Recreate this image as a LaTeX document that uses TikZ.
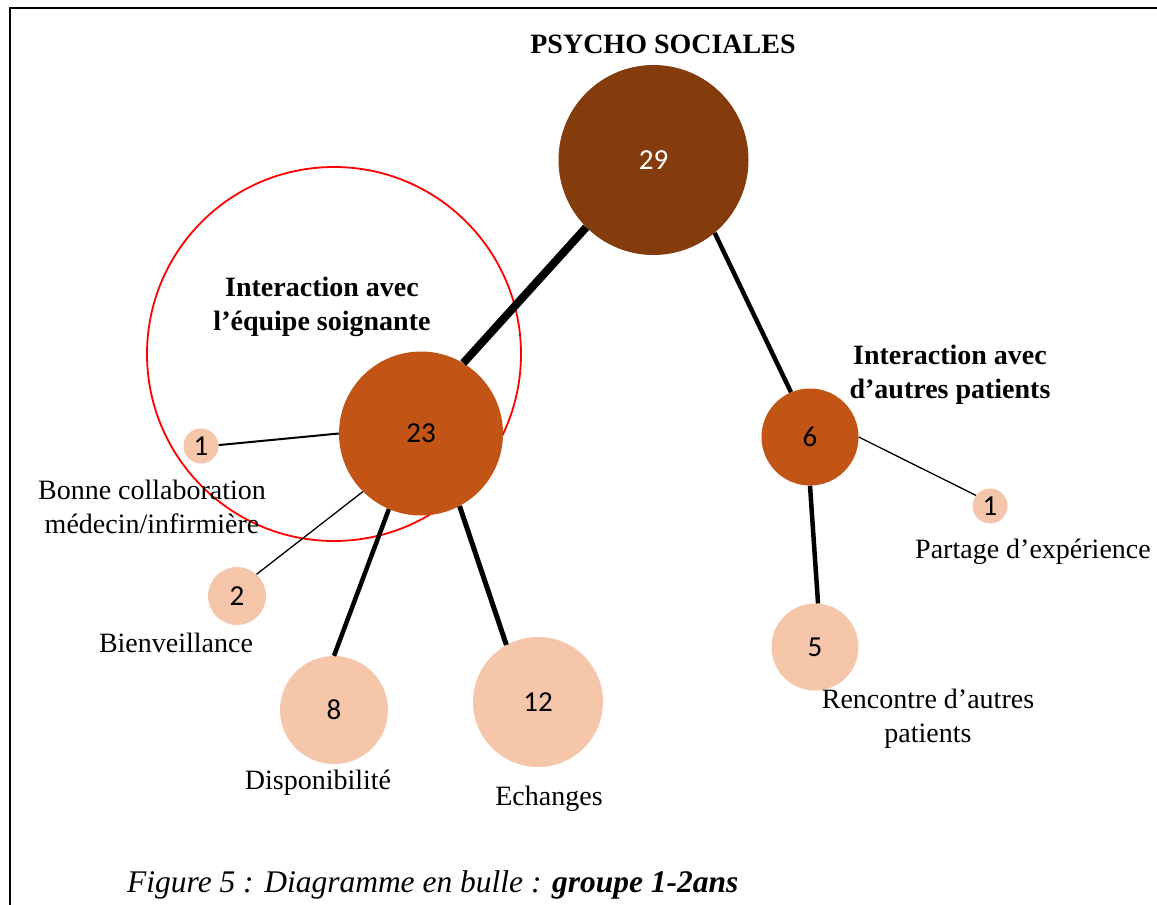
\documentclass[tikz,border=0pt]{standalone}
\usepackage{fontspec}
\setmainfont{Liberation Serif}
\newfontfamily\calib{Carlito}
\definecolor{darkbrown}{HTML}{843C0C}
\definecolor{midorange}{HTML}{C25415}
\definecolor{lightpeach}{HTML}{F6C6AB}
\begin{document}
\begin{tikzpicture}[x=1pt,y=-1pt,
  bubble/.style={circle, inner sep=0pt, font=\calib\fontsize{29}{32}\selectfont},
  lbl/.style={font=\fontsize{28}{34}\selectfont, align=center, inner sep=0pt},
  blbl/.style={font=\bfseries\fontsize{28}{34}\selectfont, align=center, inner sep=0pt},
  thin/.style={line width=1.3pt},
  mid/.style={line width=2pt},
  thick/.style={line width=4.5pt},
  heavy/.style={line width=8pt}]
\useasboundingbox (0,0) rectangle (1157,905);
% frame
\draw[line width=2pt] (10,905) -- (10,8) -- (1157,8);
% red circle
\draw[red, line width=1.8pt] (334,354) circle[radius=187];
% bubbles
\node[bubble, fill=darkbrown, text=white, minimum size=190pt] (c29) at (653.5,160) {29};
\node[bubble, fill=midorange, minimum size=164pt] (c23) at (421,433.5) {23};
\node[bubble, fill=midorange, minimum size=97pt] (c6) at (810,437) {6};
\node[bubble, fill=lightpeach, minimum size=35pt] (c1a) at (201,446) {1};
\node[bubble, fill=lightpeach, minimum size=58pt] (c2) at (237,596) {2};
\node[bubble, fill=lightpeach, minimum size=108pt] (c8) at (334,710) {8};
\node[bubble, fill=lightpeach, minimum size=130pt] (c12) at (538,702) {12};
\node[bubble, fill=lightpeach, minimum size=87pt] (c5) at (815,647) {5};
\node[bubble, fill=lightpeach, minimum size=35pt] (c1b) at (990,506) {1};
% connectors
\draw[heavy] (c29.225) -- (c23.59);
\draw[thick] (c29.310) -- (c6.113);
\draw[mid] (c23.180) -- (c1a.3);
\draw[thin] (c23.225) -- (c2.48);
\draw[thick] (c23.247) -- (c8.90);
\draw[line width=5pt] (c23.298) -- (c12.119);
\draw[thick] (c6.270) -- (c5.86);
\draw[thin] (c6.0) -- (c1b.143);
% labels
\node[blbl] (tpsy) at (663,44) {PSYCHO SOCIALES};
\node[blbl] (tint1) at (322,307) {Interaction avec\\l’équipe soignante};
\node[blbl] (tint2) at (950,375) {Interaction avec\\d’autres patients};
\node[lbl] (tbonne) at (152,507) {Bonne collaboration\\médecin/infirmière};
\node[lbl] (tbien) at (176,643) {Bienveillance};
\node[lbl] (tdisp) at (318,783) {Disponibilité};
\node[lbl] (tech) at (549,799) {Echanges};
\node[lbl] (trenc) at (928,719) {Rencontre d’autres\\patients};
\node[lbl] (tpart) at (1033,552) {Partage d’expérience};
\node[anchor=west, inner sep=0pt, font=\itshape\fontsize{31.5}{36}\selectfont] (tcap) at (127,885) {Figure 5 : Diagramme en bulle : \textbf{groupe 1-2ans}};
\end{tikzpicture}
\end{document}
